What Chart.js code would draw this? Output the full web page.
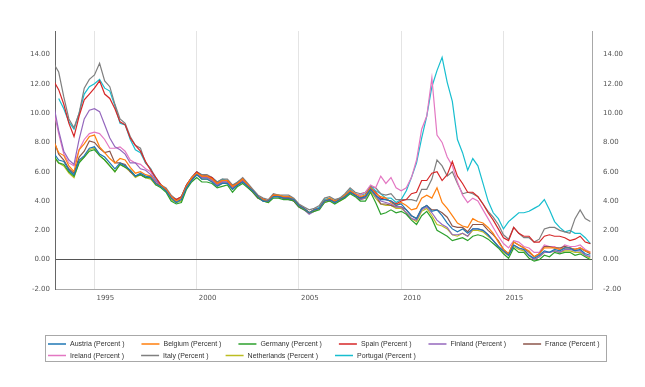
<!DOCTYPE html>
<html lang="en">
<head>
  <meta charset="UTF-8">
  <title>Long-term government bond yields</title>
  <script src="https://cdn.jsdelivr.net/npm/chart.js"></script>
  <style>
    body { margin: 0; background: #fff; }
    #wrap { width: 645px; height: 387px; }
  </style>
</head>
<body>
  <div id="wrap"><canvas id="chart" width="645" height="387"></canvas></div>

  <script>
    // quarterly observations, Jan 1993 .. Apr 2019
    const quarters = [];
    for (let y = 1993; y <= 2019; y++) {
      for (let q = 0; q < 4; q++) {
        if (y === 2019 && q > 1) break;
        quarters.push(y + q / 4);
      }
    }
    const yearTicks = [1995, 2000, 2005, 2010, 2015];
    const rateTicks = [-2, 0, 2, 4, 6, 8, 10, 12, 14];

    const austria = [
      7.3, 6.8, 6.7, 6.1,  5.8, 6.8, 7.1, 7.6,  7.7, 7.2, 7.0, 6.6,  6.2, 6.6, 6.4, 6.1,
      5.7, 5.9, 5.7, 5.6,  5.2, 5.0, 4.7, 4.2,  3.9, 4.1, 4.9, 5.4,  5.8, 5.5, 5.5, 5.3,
      5.0, 5.2, 5.2, 4.8,  5.1, 5.3, 5.0, 4.7,  4.3, 4.0, 4.0, 4.3,  4.3, 4.2, 4.2, 4.1,
      3.7, 3.5, 3.2, 3.4,  3.5, 4.0, 4.1, 3.9,  4.1, 4.3, 4.6, 4.4,  4.2, 4.3, 4.8, 4.4,
      4.1, 4.1, 4.0, 3.7,  3.8, 3.4, 3.0, 2.8,  3.5, 3.7, 3.3, 3.4,  3.0, 2.5, 2.1, 1.9,
      2.1, 1.8, 2.1, 2.1,  2.0, 1.7, 1.3, 0.9,  0.6, 0.3, 1.0, 0.8,  0.7, 0.3, 0.1, 0.3,
      0.6, 0.5, 0.7, 0.6,  0.8, 0.8, 0.6, 0.7,  0.4, 0.3
    ];
    const belgium = [
      8.1, 7.3, 7.1, 6.4,  6.0, 7.5, 7.9, 8.4,  8.5, 7.7, 7.3, 6.9,  6.6, 6.9, 6.8, 6.3,
      5.9, 6.0, 5.8, 5.7,  5.2, 5.1, 4.8, 4.3,  4.0, 4.2, 5.0, 5.6,  5.9, 5.7, 5.7, 5.5,
      5.2, 5.4, 5.4, 5.0,  5.2, 5.5, 5.1, 4.7,  4.3, 4.1, 4.0, 4.4,  4.4, 4.3, 4.3, 4.1,
      3.7, 3.5, 3.2, 3.4,  3.5, 4.0, 4.2, 4.0,  4.1, 4.4, 4.7, 4.5,  4.3, 4.4, 4.9, 4.5,
      4.3, 4.2, 3.9, 3.7,  3.9, 3.7, 3.4, 3.5,  4.2, 4.4, 4.2, 4.9,  3.9, 3.5, 3.0, 2.5,
      2.3, 2.2, 2.8, 2.6,  2.5, 2.2, 1.8, 1.2,  0.7, 0.4, 1.2, 1.0,  0.8, 0.6, 0.2, 0.4,
      0.8, 0.8, 0.8, 0.7,  0.8, 0.8, 0.7, 0.8,  0.6, 0.5
    ];
    const germany = [
      7.1, 6.6, 6.5, 6.0,  5.7, 6.6, 7.0, 7.4,  7.5, 7.1, 6.8, 6.4,  6.0, 6.5, 6.3, 6.1,
      5.7, 5.8, 5.6, 5.6,  5.1, 4.9, 4.6, 4.0,  3.8, 3.9, 4.8, 5.3,  5.6, 5.3, 5.3, 5.2,
      4.9, 5.0, 5.1, 4.6,  5.0, 5.2, 4.9, 4.6,  4.2, 4.0, 3.9, 4.2,  4.2, 4.1, 4.1, 4.0,
      3.6, 3.4, 3.2, 3.3,  3.4, 3.9, 4.0, 3.8,  4.0, 4.2, 4.5, 4.3,  4.0, 4.0, 4.6, 3.9,
      3.1, 3.2, 3.4, 3.2,  3.3, 3.1, 2.7, 2.4,  3.0, 3.3, 2.8, 2.0,  1.8, 1.6, 1.3, 1.4,
      1.5, 1.3, 1.6, 1.7,  1.6, 1.4, 1.1, 0.8,  0.4, 0.1, 0.8, 0.5,  0.5, 0.1, -0.1, 0.0,
      0.3, 0.2, 0.5, 0.4,  0.5, 0.5, 0.3, 0.4,  0.2, 0.0
    ];
    const spain = [
      12.2, 11.6, 10.6, 9.3,  8.4, 9.8, 10.9, 11.3,  11.7, 12.2, 11.3, 11.0,  10.3, 9.4, 9.2, 8.3,
      7.8, 7.4, 6.7, 6.1,  5.6, 5.1, 4.8, 4.3,  4.1, 4.3, 5.1, 5.6,  6.0, 5.7, 5.7, 5.6,
      5.2, 5.4, 5.4, 5.0,  5.2, 5.5, 5.1, 4.7,  4.3, 4.1, 4.0, 4.4,  4.3, 4.2, 4.2, 4.0,
      3.7, 3.5, 3.2, 3.4,  3.5, 4.0, 4.1, 4.0,  4.1, 4.3, 4.7, 4.4,  4.2, 4.4, 4.9, 4.6,
      4.2, 4.1, 4.0, 3.8,  4.0, 4.1, 4.5, 4.6,  5.4, 5.4, 5.9, 6.0,  5.4, 5.8, 6.7, 5.7,
      5.2, 4.6, 4.6, 4.3,  3.8, 3.2, 2.7, 2.1,  1.5, 1.3, 2.2, 1.8,  1.6, 1.6, 1.2, 1.2,
      1.6, 1.7, 1.6, 1.6,  1.5, 1.3, 1.4, 1.6,  1.2, 1.1
    ];
    const finland = [
      10.6, 8.8, 7.4, 6.8,  6.5, 8.2, 9.6, 10.2,  10.3, 10.1, 9.2, 8.3,  7.7, 7.5, 7.2, 6.6,
      6.6, 6.2, 6.1, 5.8,  5.4, 5.1, 4.8, 4.3,  4.0, 4.2, 5.0, 5.6,  5.9, 5.6, 5.6, 5.4,
      5.1, 5.3, 5.3, 4.9,  5.2, 5.4, 5.0, 4.6,  4.3, 4.0, 4.0, 4.3,  4.3, 4.2, 4.1, 4.0,
      3.6, 3.4, 3.1, 3.3,  3.5, 4.0, 4.1, 3.9,  4.1, 4.3, 4.7, 4.4,  4.1, 4.2, 4.8, 4.3,
      4.0, 3.9, 3.8, 3.6,  3.6, 3.2, 2.8, 2.7,  3.4, 3.6, 3.2, 2.7,  2.4, 2.2, 1.7, 1.7,
      1.8, 1.6, 2.1, 2.1,  2.0, 1.7, 1.3, 0.9,  0.6, 0.3, 1.0, 0.8,  0.7, 0.3, 0.0, 0.2,
      0.5, 0.5, 0.6, 0.5,  0.7, 0.7, 0.6, 0.6,  0.3, 0.2
    ];
    const france = [
      8.2, 7.2, 6.8, 6.2,  5.9, 7.0, 7.4, 8.1,  8.0, 7.6, 7.3, 7.4,  6.6, 6.6, 6.5, 6.0,
      5.7, 5.8, 5.6, 5.7,  5.2, 5.1, 4.8, 4.3,  4.0, 4.2, 5.0, 5.5,  5.8, 5.6, 5.6, 5.5,
      5.1, 5.3, 5.3, 4.9,  5.1, 5.4, 5.0, 4.6,  4.2, 4.1, 4.0, 4.4,  4.3, 4.3, 4.3, 4.1,
      3.7, 3.5, 3.2, 3.4,  3.5, 4.0, 4.1, 3.9,  4.1, 4.3, 4.6, 4.4,  4.1, 4.3, 4.8, 4.4,
      3.8, 3.8, 3.7, 3.6,  3.6, 3.4, 3.0, 2.8,  3.5, 3.7, 3.4, 3.4,  3.2, 2.9, 2.3, 2.2,
      2.2, 1.9, 2.4, 2.4,  2.4, 2.0, 1.7, 1.3,  0.7, 0.4, 1.2, 1.0,  0.8, 0.5, 0.2, 0.4,
      0.9, 0.9, 0.8, 0.8,  0.9, 0.8, 0.7, 0.8,  0.6, 0.4
    ];
    const ireland = [
      10.2, 8.6, 7.2, 6.6,  6.4, 7.5, 8.2, 8.6,  8.7, 8.6, 8.2, 7.6,  7.6, 7.7, 7.4, 6.8,
      6.6, 6.5, 6.2, 6.0,  5.3, 5.1, 4.8, 4.3,  4.0, 4.2, 5.0, 5.5,  5.8, 5.6, 5.6, 5.4,
      5.1, 5.3, 5.3, 4.9,  5.1, 5.4, 5.0, 4.6,  4.2, 4.0, 4.0, 4.3,  4.3, 4.2, 4.2, 4.0,
      3.6, 3.4, 3.2, 3.4,  3.5, 4.0, 4.1, 3.9,  4.1, 4.3, 4.7, 4.5,  4.4, 4.6, 5.1, 4.9,
      5.7, 5.2, 5.6, 4.9,  4.7, 4.9, 5.6, 6.8,  8.9, 9.8, 12.4, 8.5,  8.0, 7.0, 6.4, 5.3,
      4.4, 3.9, 4.2, 4.0,  3.4, 2.8, 2.2, 1.6,  1.1, 0.8, 1.3, 1.2,  0.9, 0.8, 0.5, 0.5,
      1.0, 0.9, 0.9, 0.7,  1.0, 0.9, 0.9, 1.0,  0.7, 0.5
    ];
    const italy = [
      13.4, 12.8, 11.1, 9.6,  9.0, 10.0, 11.7, 12.3,  12.6, 13.4, 12.2, 11.8,  10.6, 9.6, 9.3, 8.4,
      7.8, 7.6, 6.6, 6.2,  5.6, 5.1, 4.9, 4.4,  4.1, 4.3, 5.1, 5.6,  6.0, 5.8, 5.8, 5.6,
      5.3, 5.5, 5.5, 5.1,  5.3, 5.6, 5.2, 4.8,  4.4, 4.2, 4.1, 4.5,  4.4, 4.4, 4.4, 4.2,
      3.8, 3.6, 3.4, 3.5,  3.7, 4.2, 4.3, 4.1,  4.2, 4.5, 4.9, 4.6,  4.5, 4.6, 5.0, 4.9,
      4.5, 4.4, 4.5, 4.1,  4.1, 4.1, 4.1, 4.0,  4.8, 4.8, 5.5, 6.8,  6.4, 5.7, 6.0, 5.2,
      4.5, 4.6, 4.5, 4.3,  3.8, 3.3, 2.9, 2.4,  1.7, 1.4, 2.2, 1.8,  1.5, 1.5, 1.2, 1.4,
      2.1, 2.2, 2.2, 2.0,  1.9, 1.8, 2.8, 3.4,  2.8, 2.6
    ];
    const netherlands = [
      7.0, 6.6, 6.4, 5.9,  5.6, 6.7, 7.0, 7.5,  7.6, 7.1, 6.8, 6.4,  6.0, 6.5, 6.3, 6.0,
      5.6, 5.8, 5.6, 5.5,  5.1, 5.0, 4.7, 4.1,  3.9, 4.0, 4.9, 5.4,  5.8, 5.5, 5.5, 5.3,
      5.0, 5.2, 5.2, 4.8,  5.1, 5.3, 5.0, 4.6,  4.2, 4.0, 3.9, 4.3,  4.3, 4.2, 4.2, 4.0,
      3.6, 3.4, 3.2, 3.3,  3.5, 3.9, 4.0, 3.9,  4.0, 4.2, 4.6, 4.4,  4.1, 4.2, 4.7, 4.2,
      3.8, 3.7, 3.7, 3.5,  3.5, 3.2, 2.8, 2.6,  3.3, 3.5, 3.0, 2.4,  2.3, 2.1, 1.7, 1.6,
      1.8, 1.6, 2.0, 2.0,  1.9, 1.6, 1.3, 0.9,  0.5, 0.3, 0.9, 0.7,  0.6, 0.3, 0.0, 0.2,
      0.5, 0.5, 0.6, 0.5,  0.6, 0.6, 0.5, 0.5,  0.3, 0.1
    ];
    const portugal = [
      null, 11.0, 10.3, 9.4,  8.9, 10.0, 11.3, 11.8,  12.0, 12.3, 11.7, 11.5,  10.5, 9.3, 9.2, 8.2,
      7.5, 7.3, 6.6, 6.2,  5.4, 5.1, 4.8, 4.3,  4.0, 4.3, 5.1, 5.6,  6.0, 5.8, 5.7, 5.6,
      5.3, 5.5, 5.4, 5.0,  5.3, 5.5, 5.1, 4.7,  4.3, 4.1, 4.0, 4.4,  4.4, 4.3, 4.3, 4.1,
      3.7, 3.5, 3.2, 3.4,  3.6, 4.1, 4.2, 4.0,  4.2, 4.4, 4.8, 4.5,  4.4, 4.5, 5.0, 4.7,
      4.5, 4.2, 4.2, 3.9,  4.1, 4.7, 5.6, 6.6,  8.3, 9.8, 11.8, 12.9,  13.8, 12.1, 10.8, 8.2,
      7.3, 6.1, 6.9, 6.4,  5.2, 4.0, 3.2, 2.8,  2.1, 2.6, 2.9, 3.2,  3.2, 3.3, 3.5, 3.7,
      4.1, 3.4, 2.6, 2.2,  1.9, 2.0, 1.8, 1.8,  1.5, 1.1
    ];

    const series = [
      ['Austria (Percent )', austria, '#1f77b4'],
      ['Belgium (Percent )', belgium, '#ff7f0e'],
      ['Germany (Percent )', germany, '#2ca02c'],
      ['Spain (Percent )', spain, '#d62728'],
      ['Finland (Percent )', finland, '#9467bd'],
      ['France (Percent )', france, '#8c564b'],
      ['Ireland (Percent )', ireland, '#e377c2'],
      ['Italy (Percent )', italy, '#7f7f7f'],
      ['Netherlands (Percent )', netherlands, '#bcbd22'],
      ['Portugal (Percent )', portugal, '#17becf']
    ];

    const tickFont = { family: 'DejaVu Sans', size: 7 };

    // legend drawn by hand: bordered box, two wrapped rows
    const boxLegend = {
      id: 'boxLegend',
      afterDraw(chart) {
        const ctx = chart.ctx;
        ctx.save();
        ctx.strokeStyle = '#a8a8a8';
        ctx.lineWidth = 1;
        ctx.strokeRect(45.5, 335.5, 561, 26);
        ctx.font = '7px "Liberation Sans"';
        ctx.textBaseline = 'middle';
        let x = 48, y = 344;
        chart.data.datasets.forEach(ds => {
          const w = 18 + 4 + ctx.measureText(ds.label).width;
          if (x + w > 604) { x = 48; y += 11.5; }
          ctx.strokeStyle = ds.borderColor;
          ctx.lineWidth = 1.5;
          ctx.beginPath();
          ctx.moveTo(x, y);
          ctx.lineTo(x + 18, y);
          ctx.stroke();
          ctx.fillStyle = '#333';
          ctx.fillText(ds.label, x + 22, y + 0.5);
          x += w + 17;
        });
        ctx.restore();
      }
    };

    const ctx = document.getElementById('chart').getContext('2d');
    new Chart(ctx, {
      type: 'line',
      data: {
        datasets: series.map(([label, values, color]) => ({
          label: label,
          data: values.map((v, i) => ({ x: quarters[i], y: v })),
          borderColor: color,
          backgroundColor: color,
          borderWidth: 1.2,
          pointRadius: 0,
          tension: 0,
          fill: false
        }))
      },
      options: {
        responsive: false,
        animation: false,
        layout: { padding: { top: 31 } },
        plugins: { legend: { display: false }, tooltip: { enabled: false } },
        scales: {
          x: {
            type: 'linear',
            min: 1993.07,
            max: 2019.33,
            afterBuildTicks: s => { s.ticks = yearTicks.map(v => ({ value: v })); },
            afterFit: s => { s.height = 98; },
            grid: { color: '#e4e4e4', drawTicks: false },
            border: { color: '#a8a8a8' },
            ticks: { align: 'start', labelOffset: 2, padding: 5, color: '#555', font: tickFont,
                     callback: v => String(v) }
          },
          y: {
            position: 'left',
            min: -2,
            max: 15.6,
            afterBuildTicks: s => { s.ticks = rateTicks.map(v => ({ value: v })); },
            afterFit: s => { s.width = 55; },
            grid: { color: c => (c.tick && c.tick.value === 0) ? '#555' : 'rgba(0,0,0,0)', drawTicks: false },
            border: { color: '#666' },
            ticks: { padding: 5, color: '#555', font: tickFont, callback: v => v.toFixed(2) }
          },
          y2: {
            position: 'right',
            min: -2,
            max: 15.6,
            afterBuildTicks: s => { s.ticks = rateTicks.map(v => ({ value: v })); },
            afterFit: s => { s.width = 53; },
            grid: { display: false },
            border: { color: '#a8a8a8' },
            ticks: { padding: 3, color: '#555', font: tickFont, callback: v => v.toFixed(2) }
          }
        }
      },
      plugins: [boxLegend]
    });
  </script>
</body>
</html>
